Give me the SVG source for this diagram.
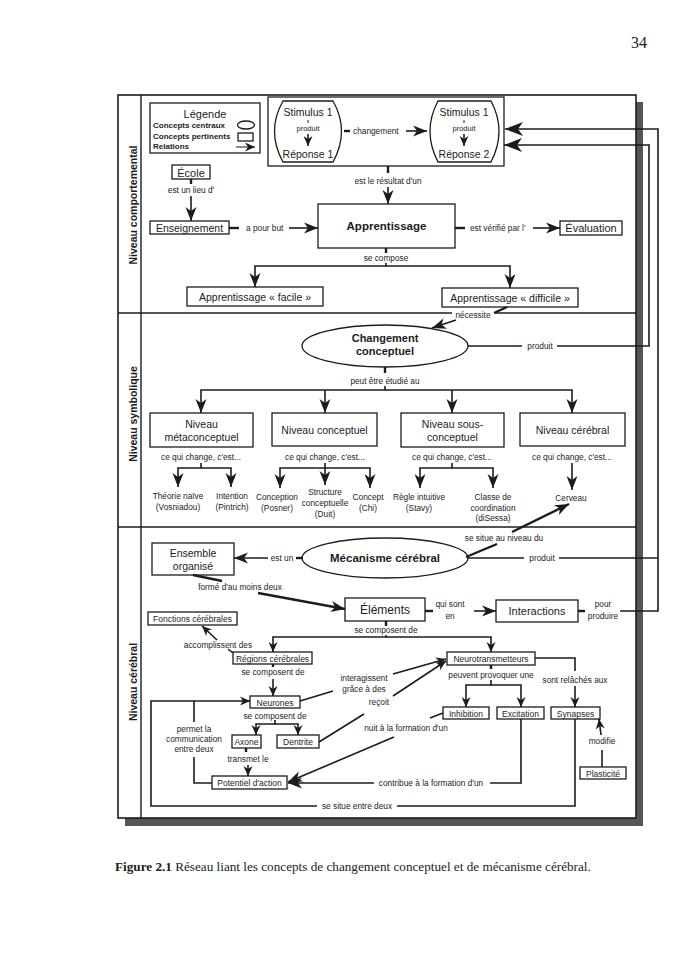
<svg xmlns="http://www.w3.org/2000/svg" width="692" height="980" viewBox="0 0 692 980">
<style>
text{font-family:"Liberation Sans",Arial,Helvetica,sans-serif;fill:#1c1c1c}
.b{fill:#fff;stroke:#1c1c1c;stroke-width:1.3}
.c{fill:none;stroke:#1c1c1c;stroke-width:1.6}
.k{fill:none;stroke:#1c1c1c;stroke-width:2.4}
.l{font-size:8.3px}
.m{text-anchor:middle}
.bx{font-size:10.5px}
.s{font-size:8.5px}
.bd{font-weight:bold}
.side{font-size:10.5px;font-weight:bold;text-anchor:middle}
.a{marker-end:url(#a)}
.as{marker-end:url(#as)}
.al{marker-end:url(#al)}
</style>
<defs>
<marker id="a" markerWidth="15" markerHeight="12" refX="14" refY="6" orient="auto" markerUnits="userSpaceOnUse"><path d="M0,0.5 L14,6 L0,11.5 L4,6 Z" fill="#1c1c1c"/></marker>
<marker id="as" markerWidth="11" markerHeight="10" refX="10" refY="5" orient="auto" markerUnits="userSpaceOnUse"><path d="M0,0.5 L10,5 L0,9.5 L3,5 Z" fill="#1c1c1c"/></marker>
<marker id="al" markerWidth="19" markerHeight="14" refX="18" refY="7" orient="auto" markerUnits="userSpaceOnUse"><path d="M0,0 L18,7 L0,14 L5,7 Z" fill="#1c1c1c"/></marker>
</defs>
<rect width="692" height="980" fill="#fff"/>
<text x="647" y="48" text-anchor="end" style="font-family:'Liberation Serif',serif;font-size:16px">34</text>

<g id="frame">
<rect x="125" y="102" width="518" height="724" fill="#555"/>
<rect x="118" y="95" width="518" height="723" fill="#fff" stroke="#1c1c1c" stroke-width="1.6"/>
<line x1="141" y1="95" x2="141" y2="818" stroke="#1c1c1c" stroke-width="1.4"/>
<path d="M118,313 H452 M495,313 H636 M118,527 H636" stroke="#1c1c1c" stroke-width="1.4" fill="none"/>
<text class="side" transform="translate(137,205) rotate(-90)">Niveau comportemental</text>
<text class="side" transform="translate(137,414) rotate(-90)">Niveau symbolique</text>
<text class="side" transform="translate(137,682) rotate(-90)">Niveau cérébral</text>
</g>

<g id="legende">
<rect class="b" x="150" y="103" width="110" height="50"/>
<text x="205" y="118" class="m" font-size="11">Légende</text>
<text x="153" y="128" class="bd" font-size="8">Concepts centraux</text>
<text x="153" y="138.5" class="bd" font-size="8">Concepts pertinents</text>
<text x="153" y="149" class="bd" font-size="8">Relations</text>
<ellipse cx="246" cy="125" rx="8.5" ry="4" class="b"/>
<rect x="238" y="133" width="15" height="8" class="b"/>
<line x1="236" y1="147" x2="255" y2="147" stroke="#1c1c1c" stroke-width="1" marker-end="url(#as)"/>
</g>

<g id="stimulus-cadre">
<rect class="b" x="268" y="97" width="236" height="69"/>
</g>
<g id="stimulus1">
<path class="b" d="M283,101 H333 Q350,131 333,162 H283 Q266,131 283,101 Z"/>
<text x="308" y="116" class="m" font-size="10.5">Stimulus 1</text>
<line x1="308" y1="120" x2="308" y2="123" stroke="#1c1c1c" stroke-width="1"/>
<text x="308" y="131" class="m" font-size="7.5">produit</text>
<line x1="308" y1="134" x2="308" y2="146" class="c as"/>
<text x="308" y="158" class="m" font-size="10.5">Réponse 1</text>
</g>
<g id="stimulus2">
<path class="b" d="M438,101 H491 Q507,131 491,162 H438 Q422,131 438,101 Z"/>
<text x="464" y="116" class="m" font-size="10.5">Stimulus 1</text>
<line x1="464" y1="120" x2="464" y2="123" stroke="#1c1c1c" stroke-width="1"/>
<text x="464" y="131" class="m" font-size="7.5">produit</text>
<line x1="464" y1="134" x2="464" y2="146" class="c as"/>
<text x="464" y="158" class="m" font-size="10.5">Réponse 2</text>
</g>

<g id="ecole"><rect class="b" x="172" y="165" width="38" height="14"/><text x="191" y="176.5" class="m" font-size="11">École</text></g>
<g id="enseignement"><rect class="b" x="150" y="221" width="79" height="13"/><text x="189.5" y="231.5" class="m bx">Enseignement</text></g>
<g id="apprentissage"><rect class="b" x="318" y="204" width="137" height="44"/><text x="386.5" y="230" class="m bd" font-size="11.5">Apprentissage</text></g>
<g id="evaluation"><rect class="b" x="560" y="221" width="62" height="14"/><text x="591" y="232" class="m" font-size="11">Évaluation</text></g>
<g id="app-facile"><rect class="b" x="187" y="287" width="136" height="19"/><text x="255" y="300.5" class="m bx">Apprentissage « facile »</text></g>
<g id="app-difficile"><rect class="b" x="442" y="288" width="136" height="19"/><text x="510" y="301.5" class="m bx">Apprentissage « difficile »</text></g>

<g id="changement-conceptuel"><ellipse class="b" cx="385" cy="346" rx="83" ry="21"/><text x="385" y="342" class="m bd" font-size="11">Changement</text><text x="385" y="355" class="m bd" font-size="11">conceptuel</text></g>
<g id="niv-meta"><rect class="b" x="150" y="413" width="103" height="34"/><text x="201.5" y="428" class="m bx">Niveau</text><text x="201.5" y="441" class="m bx">métaconceptuel</text></g>
<g id="niv-conceptuel"><rect class="b" x="272" y="413" width="105" height="33"/><text x="324.5" y="434" class="m bx">Niveau conceptuel</text></g>
<g id="niv-sous"><rect class="b" x="401" y="413" width="103" height="34"/><text x="452.5" y="428" class="m bx">Niveau sous-</text><text x="452.5" y="441" class="m bx">conceptuel</text></g>
<g id="niv-cerebral"><rect class="b" x="520" y="413" width="105" height="33"/><text x="572.5" y="434" class="m bx">Niveau cérébral</text></g>

<g id="theorie"><text x="178" y="499" class="m l">Théorie naïve</text><text x="178" y="510" class="m l">(Vosniadou)</text></g>
<g id="intention"><text x="232" y="499" class="m l">Intention</text><text x="232" y="510" class="m l">(Pintrich)</text></g>
<g id="conception"><text x="277" y="500" class="m l">Conception</text><text x="277" y="511" class="m l">(Posner)</text></g>
<g id="structure"><text x="325" y="495" class="m l">Structure</text><text x="325" y="506" class="m l">conceptuelle</text><text x="325" y="517" class="m l">(Duit)</text></g>
<g id="concept"><text x="368" y="500" class="m l">Concept</text><text x="368" y="511" class="m l">(Chi)</text></g>
<g id="regle"><text x="419" y="500" class="m l">Règle intuitive</text><text x="419" y="511" class="m l">(Stavy)</text></g>
<g id="classe"><text x="493" y="500" class="m l">Classe de</text><text x="493" y="510.5" class="m l">coordination</text><text x="493" y="521" class="m l">(diSessa)</text></g>
<g id="cerveau"><text x="571" y="501" class="m l">Cerveau</text></g>

<g id="ensemble"><rect class="b" x="152" y="543" width="82" height="32"/><text x="193" y="556.5" class="m bx">Ensemble</text><text x="193" y="569.5" class="m bx">organisé</text></g>
<g id="mecanisme"><ellipse class="b" cx="385" cy="558" rx="83" ry="20"/><text x="385" y="562" class="m bd" font-size="11.5">Mécanisme cérébral</text></g>
<g id="elements"><rect class="b" x="345" y="598" width="80" height="23"/><text x="385" y="614" class="m" font-size="12">Éléments</text></g>
<g id="interactions"><rect class="b" x="496" y="600" width="82" height="22"/><text x="537" y="615" class="m" font-size="11">Interactions</text></g>
<g id="fonctions"><rect class="b" x="148" y="612" width="89" height="13"/><text x="192.5" y="622" class="m s">Fonctions cérébrales</text></g>
<g id="regions"><rect class="b" x="233" y="652" width="79" height="12"/><text x="272.5" y="661.5" class="m s">Régions cérébrales</text></g>
<g id="neurones"><rect class="b" x="250" y="696" width="50" height="12"/><text x="275" y="705.5" class="m s">Neurones</text></g>
<g id="axone"><rect class="b" x="232" y="735" width="29" height="13"/><text x="246.5" y="745" class="m s">Axone</text></g>
<g id="dentrite"><rect class="b" x="277" y="735" width="42" height="13"/><text x="298" y="745" class="m s">Dentrite</text></g>
<g id="potentiel"><rect class="b" x="212" y="776" width="75" height="13"/><text x="249.5" y="786" class="m s">Potentiel d'action</text></g>
<g id="neurotransmetteurs"><rect class="b" x="447" y="652" width="88" height="13"/><text x="491" y="662" class="m s">Neurotransmetteurs</text></g>
<g id="inhibition"><rect class="b" x="443" y="707" width="46" height="12"/><text x="466" y="716.5" class="m s">Inhibition</text></g>
<g id="excitation"><rect class="b" x="497" y="707" width="47" height="12"/><text x="520.5" y="716.5" class="m s">Excitation</text></g>
<g id="synapses"><rect class="b" x="551" y="707" width="49" height="12"/><text x="575.5" y="716.5" class="m s">Synapses</text></g>
<g id="plasticite"><rect class="b" x="580" y="767" width="46" height="12"/><text x="603" y="776.5" class="m s">Plasticité</text></g>

<g id="connectors">
<line class="k" x1="344" y1="131" x2="350" y2="131"/>
<text x="353" y="134" class="l">changement</text>
<line class="c a" x1="406" y1="131" x2="427" y2="131"/>
<path class="c al" d="M620,611 H658 V129 H505"/>
<path class="c al" d="M557,346 H649 V145 H504"/>
<path class="c" d="M559,558 H658"/>

<line class="k" x1="388" y1="166" x2="388" y2="173"/>
<text x="388" y="184" class="m l">est le résultat d'un</text>
<line class="c a" x1="388" y1="187" x2="388" y2="204"/>

<line class="k" x1="191" y1="179" x2="191" y2="184"/>
<text x="191" y="193" class="m l">est un lieu d'</text>
<line class="c a" x1="191" y1="196" x2="191" y2="221"/>

<line class="k" x1="229" y1="228" x2="239" y2="228"/>
<text x="246" y="231" class="l">a pour but</text>
<line class="c a" x1="289" y1="228" x2="318" y2="228"/>

<line class="k" x1="455" y1="228" x2="465" y2="228"/>
<text x="470" y="231" class="l">est vérifié par l'</text>
<line class="c a" x1="533" y1="228" x2="560" y2="228"/>

<line class="k" x1="386" y1="248" x2="386" y2="253"/>
<text x="386" y="261" class="m l">se compose</text>
<path class="c a" d="M386,263 V266 H255 V287"/>
<path class="c a" d="M386,266 H510 V288"/>

<line class="k" x1="507" y1="307" x2="494" y2="313"/>
<text x="473" y="318" class="m l">nécessite</text>
<line class="c a" x1="456" y1="320" x2="432" y2="328"/>

<line class="c" x1="468" y1="346" x2="522" y2="346"/>
<text x="540" y="349" class="m l">produit</text>

<line class="k" x1="385" y1="367" x2="385" y2="373"/>
<text x="385" y="384" class="m l">peut être étudié au</text>
<path class="c a" d="M385,386 V390 H201 V413"/>
<path class="c a" d="M385,390 H572 V413"/>
<path class="c a" d="M325,390 V413"/>
<path class="c a" d="M452,390 V413"/>

<text x="201" y="460" class="m l">ce qui change, c'est...</text>
<text x="325" y="460" class="m l">ce qui change, c'est...</text>
<text x="452" y="460" class="m l">ce qui change, c'est...</text>
<text x="572" y="460" class="m l">ce qui change, c'est...</text>
<path class="c a" d="M201,463 V468 H178 V487"/>
<path class="c a" d="M201,468 H231 V487"/>
<path class="c a" d="M325,463 V485"/>
<path class="c a" d="M325,468 H280 V488"/>
<path class="c a" d="M325,468 H370 V488"/>
<path class="c a" d="M452,463 V468 H420 V488"/>
<path class="c a" d="M452,468 H493 V488"/>
<path class="c a" d="M572,463 V490"/>

<line class="k" x1="466" y1="557" x2="497" y2="544"/>
<text x="504" y="541" class="m l">se situe au niveau du</text>
<line class="k a" x1="512" y1="532" x2="569" y2="504"/>

<line class="c a" x1="268" y1="558" x2="234" y2="558"/>
<text x="282" y="561" class="m l">est un</text>
<line class="k" x1="296" y1="558" x2="303" y2="558"/>

<line class="c" x1="467" y1="558" x2="524" y2="558"/>
<text x="542" y="561" class="m l">produit</text>

<line class="k" x1="193" y1="575" x2="222" y2="581"/>
<text x="240" y="590" class="m l">formé d'au moins deux</text>
<line class="k a" x1="258" y1="593" x2="345" y2="609"/>

<line class="k" x1="425" y1="611" x2="433" y2="611"/>
<text x="450" y="607" class="m l">qui sont</text>
<text x="450" y="619" class="m l">en</text>
<line class="c a" x1="474" y1="611" x2="496" y2="611"/>

<line class="k" x1="578" y1="611" x2="585" y2="611"/>
<text x="603" y="607" class="m l">pour</text>
<text x="603" y="619" class="m l">produire</text>

<line class="k" x1="386" y1="621" x2="386" y2="626"/>
<text x="386" y="633" class="m l">se composent de</text>
<path class="c as" d="M386,635 V637 H273 V652"/>
<path class="c as" d="M386,637 H491 V652"/>

<line class="c" x1="233" y1="653" x2="228" y2="649"/>
<text x="218" y="648" class="m l">accomplissent des</text>
<line class="c as" x1="217" y1="640" x2="202" y2="626"/>

<line class="k" x1="273" y1="664" x2="273" y2="667"/>
<text x="273" y="675" class="m l">se composent de</text>
<line class="c as" x1="273" y1="679" x2="273" y2="696"/>

<text x="275" y="719" class="m l">se composent de</text>
<path class="c as" d="M275,720 V724 H256 V735"/>
<path class="c as" d="M275,724 H298 V735"/>

<line class="k" x1="246" y1="748" x2="246" y2="752"/>
<text x="248" y="762" class="m l">transmet le</text>
<line class="c as" x1="248" y1="765" x2="248" y2="776"/>

<path class="c" d="M575,719 V806 H397"/>
<text x="357" y="809" class="m l">se situe entre deux</text>
<path class="c as" d="M317,806 H151 V701 H250"/>
<path class="c" d="M194,701 V722 M194,757 V783 H212"/>
<text x="194" y="732" class="m l">permet la</text>
<text x="194" y="742" class="m l">communication</text>
<text x="194" y="752" class="m l">entre deux</text>

<line class="c" x1="300" y1="701" x2="333" y2="691"/>
<text x="364" y="681" class="m l">interagissent</text>
<text x="364" y="692" class="m l">grâce à des</text>
<line class="c as" x1="393" y1="674" x2="446" y2="659"/>
<line class="c" x1="319" y1="742" x2="364" y2="714"/>
<text x="379" y="705" class="m l">reçoit</text>
<line class="c as" x1="393" y1="696" x2="446" y2="661"/>

<line class="k" x1="491" y1="665" x2="491" y2="669"/>
<text x="491" y="678" class="m l">peuvent provoquer une</text>
<path class="c as" d="M491,680 V685 H466 V707"/>
<path class="c as" d="M491,685 H521 V707"/>

<path class="c" d="M535,658 H575 V671"/>
<text x="575" y="683" class="m l">sont relâchés aux</text>
<line class="c as" x1="575" y1="686" x2="575" y2="707"/>

<line class="c" x1="443" y1="713" x2="430" y2="718"/>
<text x="406" y="731" class="m l">nuit à la formation d'un</text>
<line class="c a" x1="394" y1="737" x2="288" y2="782"/>

<path class="c" d="M521,719 V783 H490"/>
<text x="431" y="786" class="m l">contribue à la formation d'un</text>
<line class="c a" x1="374" y1="783" x2="288" y2="783"/>

<line class="c" x1="602" y1="767" x2="602" y2="750"/>
<text x="602" y="744" class="m l">modifie</text>
<line class="c as" x1="601" y1="735" x2="599" y2="719"/>
</g>

<text x="115" y="871" style="font-family:'Liberation Serif',serif;font-size:13.2px"><tspan font-weight="bold">Figure 2.1</tspan> Réseau liant les concepts de changement conceptuel et de mécanisme cérébral.</text>
</svg>
